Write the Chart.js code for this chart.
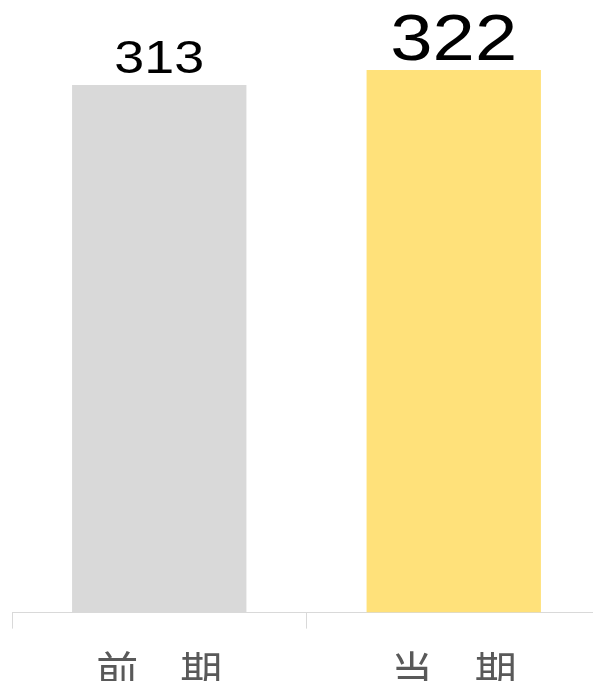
<html>
<head>
  <meta charset="utf-8" />
  <script src="https://cdn.jsdelivr.net/npm/chart.js@4.4.0/dist/chart.umd.min.js"></script>
  <style>
    body {
      margin: 0;
      background: #ffffff;
    }

    .chart-wrapper {
      width: 593px;
      height: 681px;
      overflow: hidden;
      position: relative;
    }

    .chart-item {
      width: 601px;
      height: 713px;
    }
  </style>
</head>

<body>
  <div class="chart-wrapper">
    <div class="chart-item">
      <canvas id="periodChart"></canvas>
    </div>
  </div>
  <script>
    // chart data
    const periodLabels = ["前　期", "当　期"];
    const periodValues = [313, 322];

    // chart colors
    let barColors = ["#d9d9d9", "#ffe17a"];
    let axisColor = "#d9d9d9";
    let labelColor = "#595959";

    // value label fonts (previous period smaller, current bigger)
    let valueFontSizes = [46, 65];
    let valueGaps = [12, 10];
    let valueStretch = 1.17; // the digits in the original are wide

    // draws the value over each bar
    const valueLabels = {
      id: "valueLabels",
      afterDatasetsDraw(chart) {
        const ctx = chart.ctx;
        const meta = chart.getDatasetMeta(0);
        meta.data.forEach((bar, i) => {
          ctx.save();
          ctx.fillStyle = "#000000";
          ctx.textAlign = "center";
          ctx.textBaseline = "alphabetic";
          ctx.font = valueFontSizes[i] + "px 'Liberation Sans'";
          ctx.translate(bar.x, bar.y - valueGaps[i]);
          ctx.scale(valueStretch, 1);
          ctx.fillText(String(periodValues[i]), 0, 0);
          ctx.restore();
        });
      },
    };

    let ctx = document.getElementById("periodChart").getContext("2d");
    new Chart(ctx, {
      type: "bar",
      data: {
        labels: periodLabels,
        datasets: [
          {
            data: periodValues,
            backgroundColor: barColors,
            borderWidth: 0,
            categoryPercentage: 1,
            barPercentage: 0.592,
          },
        ],
      },
      options: {
        responsive: true,
        maintainAspectRatio: false,
        animation: false,
        layout: {
          padding: { left: 12, right: 0, top: 0, bottom: 0 },
        },
        plugins: {
          legend: { display: false },
          tooltip: { enabled: false },
        },
        scales: {
          x: {
            grid: {
              display: true,
              drawOnChartArea: false,
              color: axisColor,
              tickLength: 16,
            },
            border: { color: axisColor, width: 1 },
            ticks: {
              color: labelColor,
              padding: 17,
              font: { family: "'Noto Sans CJK JP'", size: 42 },
            },
          },
          y: {
            display: false,
            min: 0,
            max: 363.5,
          },
        },
      },
      plugins: [valueLabels],
    });
  </script>
</body>
</html>
